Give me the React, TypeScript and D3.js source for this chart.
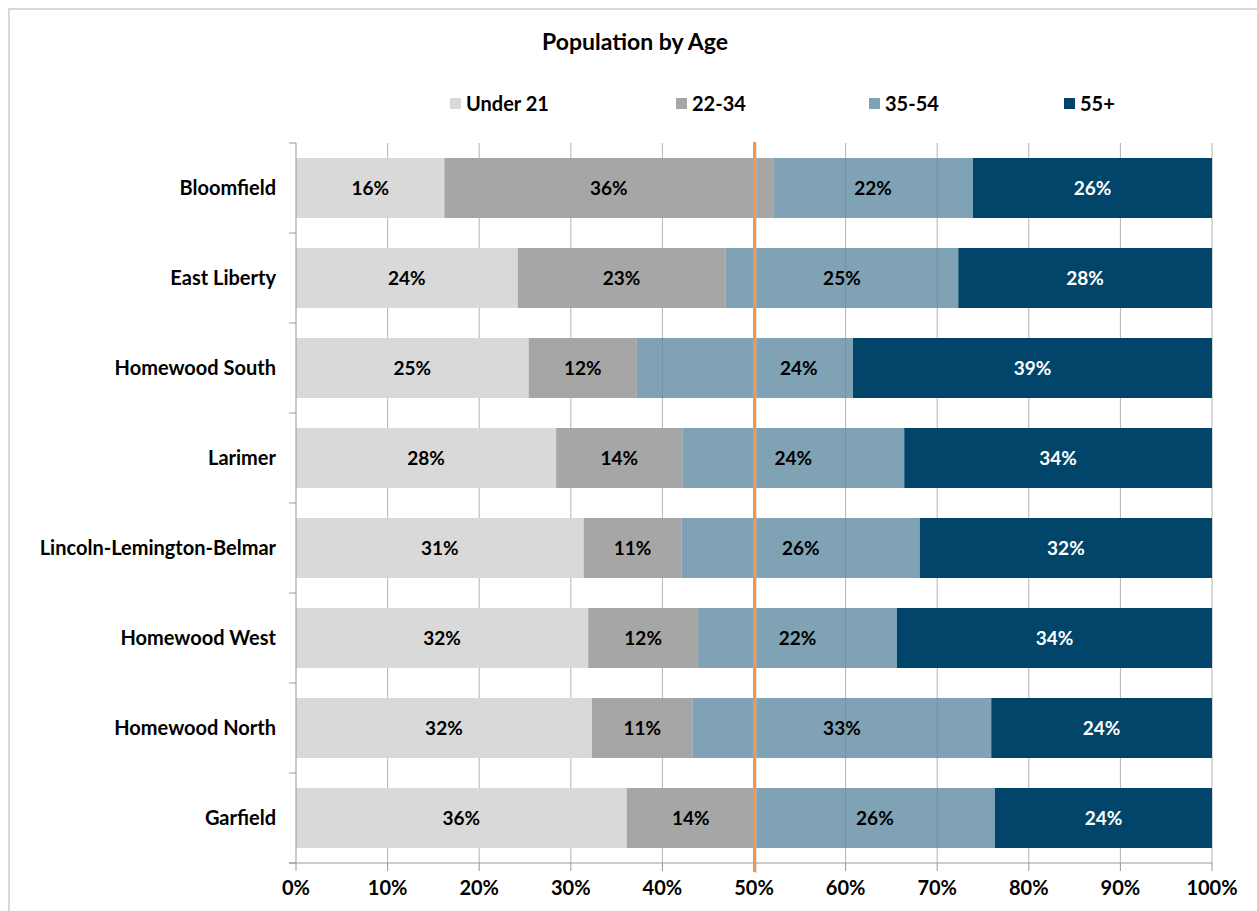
import * as d3 from "d3";

const neighborhoods = [
  "Bloomfield",
  "East Liberty",
  "Homewood South",
  "Larimer",
  "Lincoln-Lemington-Belmar",
  "Homewood West",
  "Homewood North",
  "Garfield",
];

const ageGroups = ["Under 21", "22-34", "35-54", "55+"];

// shares in percent
const under21 = [16.2, 24.2, 25.4, 28.4, 31.4, 31.9, 32.3, 36.1];
const age22to34 = [35.9, 22.7, 11.8, 13.8, 10.7, 12.0, 11.0, 14.0];
const age35to54 = [21.8, 25.4, 23.6, 24.2, 26.0, 21.7, 32.6, 26.2];
const age55plus = [26.1, 27.7, 39.2, 33.6, 31.9, 34.4, 24.1, 23.7];

const xTicks = [0, 10, 20, 30, 40, 50, 60, 70, 80, 90, 100];
const markerValue = 50;

const colors = ["#d9d9d9", "#a6a6a6", "#5f8ba2", "#01466a"];
const opacities = [1, 1, 0.8, 1];
const labelColors = ["#000", "#000", "#000", "#fff"];
const legendX = [450, 676, 869, 1064];

const FONT = "Lato, 'Open Sans', sans-serif";

const App = () => {
  const width = 1257;
  const height = 911;
  const margin = { top: 143, left: 296, right: 45, bottom: 48 };

  const x = d3
    .scaleLinear()
    .domain([0, 100])
    .range([margin.left, width - margin.right]);

  const y = d3
    .scaleBand()
    .domain(neighborhoods)
    .range([margin.top, height - margin.bottom])
    .paddingInner(1 / 3)
    .paddingOuter(1 / 6);

  const series = [under21, age22to34, age35to54, age55plus];
  const rows = neighborhoods.map((name, i) => {
    const r: any = { name };
    ageGroups.forEach((g, k) => (r[g] = series[k][i]));
    return r;
  });
  const stacked = d3.stack<any>().keys(ageGroups)(rows);

  const plotTop = margin.top;
  const plotBottom = height - margin.bottom;
  const step = y.step();
  const markerX = x(markerValue) + 0.5;

  // label centre; pushed off the marker line when it would sit on it
  const labelX = (x0: number, x1: number) => {
    const c = (x0 + x1) / 2;
    if (Math.abs(c - markerX) < 25 && x1 - markerX > 70) return (markerX + x1) / 2 - 5;
    return c;
  };

  return (
    <svg
      width={width}
      height={height}
      style={{ position: "absolute", left: 0, top: 0, background: "#fff" }}
      fontFamily={FONT}
    >
      {/* chart frame */}
      <rect x={9} y={9} width={1400} height={1100} fill="#fff" stroke="#d9d9d9" strokeWidth={2} />

      <text x={635} y={50} textAnchor="middle" fontSize={23} fontWeight="bold">
        Population by Age
      </text>

      {/* legend */}
      {ageGroups.map((g, k) => (
        <g key={g} transform={`translate(${legendX[k]},0)`}>
          <rect x={0} y={98} width={11} height={11} fill={colors[k]} fillOpacity={opacities[k]} />
          <text x={16} y={111} fontSize={20} fontWeight="bold">
            {g}
          </text>
        </g>
      ))}

      {/* gridlines */}
      {xTicks.slice(1).map((t) => (
        <line key={t} x1={x(t)} x2={x(t)} y1={plotTop} y2={plotBottom} stroke="#b3b3b3" strokeWidth={1} />
      ))}

      {/* bars */}
      {stacked.map((s, k) => (
        <g key={s.key}>
          {s.map((d, i) => {
            const x0 = x(d[0]);
            const x1 = x(d[1]);
            const yy = y(neighborhoods[i]) as number;
            return (
              <rect
                key={i}
                x={x0}
                y={yy}
                width={x1 - x0}
                height={y.bandwidth()}
                fill={colors[k]}
                fillOpacity={opacities[k]}
              />
            );
          })}
        </g>
      ))}

      {/* y axis */}
      <line x1={margin.left} x2={margin.left} y1={plotTop} y2={plotBottom} stroke="#999" />
      {d3.range(neighborhoods.length + 1).map((i) => (
        <line
          key={i}
          x1={margin.left - 7}
          x2={margin.left}
          y1={plotTop + i * step}
          y2={plotTop + i * step}
          stroke="#999"
        />
      ))}
      {neighborhoods.map((n) => (
        <text
          key={n}
          x={276}
          y={(y(n) as number) + y.bandwidth() / 2}
          dy="0.35em"
          textAnchor="end"
          fontSize={20}
          fontWeight="bold"
        >
          {n}
        </text>
      ))}

      {/* x axis */}
      <line x1={margin.left - 7} x2={x(100)} y1={plotBottom} y2={plotBottom} stroke="#999" />
      {xTicks.map((t) => (
        <g key={t}>
          <line x1={x(t)} x2={x(t)} y1={plotBottom} y2={plotBottom + 8} stroke="#999" />
          <text x={x(t)} y={plotBottom + 32} textAnchor="middle" fontSize={20} fontWeight="bold">
            {t}%
          </text>
        </g>
      ))}

      {/* 50% marker */}
      <line x1={markerX + 1.5} x2={markerX + 1.5} y1={plotTop} y2={plotBottom + 10} stroke="#bbb" strokeOpacity={0.5} strokeWidth={2} />
      <line x1={markerX} x2={markerX} y1={plotTop - 1} y2={plotBottom + 9} stroke="#f79646" strokeWidth={3} />

      {/* value labels */}
      {stacked.map((s, k) => (
        <g key={s.key}>
          {s.map((d, i) => {
            const x0 = x(d[0]);
            const x1 = x(d[1]);
            const yy = y(neighborhoods[i]) as number;
            return (
              <text
                key={i}
                x={labelX(x0, x1)}
                y={yy + y.bandwidth() / 2}
                dy="0.35em"
                textAnchor="middle"
                fontSize={19}
                fontWeight="bold"
                fill={labelColors[k]}
              >
                {Math.round(d[1] - d[0])}%
              </text>
            );
          })}
        </g>
      ))}
    </svg>
  );
};

export default App;
